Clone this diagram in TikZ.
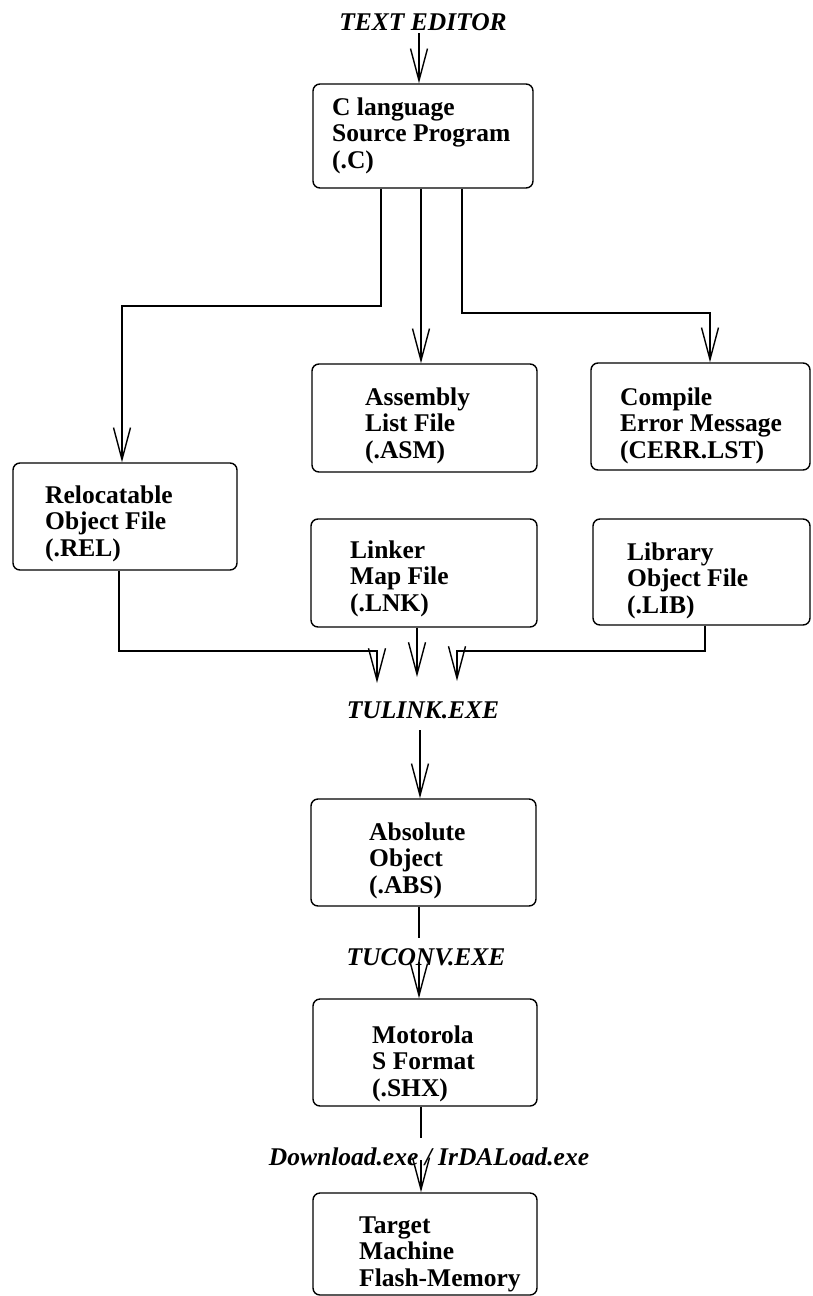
\documentclass[tikz,border=0pt]{standalone}
\usepackage{fontspec}
\setmainfont{Liberation Serif}
\usetikzlibrary{arrows.meta}
\newcommand\threel[3]{\begin{tabular}[t]{@{}l@{}}#1\\#2\\#3\end{tabular}}
\begin{document}
\begin{tikzpicture}[x=1pt,y=-1pt,
  box/.style={draw, line width=1.4pt, rounded corners=7pt, inner sep=0pt},
  txt/.style={inner sep=0pt, anchor=base west, font=\fontsize{25.5}{26.5}\selectfont\bfseries},
  lbl/.style={inner sep=0pt, anchor=base, font=\fontsize{25.5}{26.5}\selectfont\bfseries\itshape},
  arr/.style={line width=1.4pt, -{Straight Barb[length=32pt,width=17pt]}},
  ln/.style={line width=1.4pt}]
\useasboundingbox (0,0) rectangle (812,1296);

% boxes
\node[box, minimum width=220pt, minimum height=104pt] (c)    at (423,136)    {};
\node[box, minimum width=225pt, minimum height=108pt] (asm)  at (424.5,418)  {};
\node[box, minimum width=219pt, minimum height=107pt] (cerr) at (700.5,416.5) {};
\node[box, minimum width=224pt, minimum height=107pt] (rel)  at (125,516.5)  {};
\node[box, minimum width=226pt, minimum height=108pt] (lnk)  at (424,573)    {};
\node[box, minimum width=217pt, minimum height=106pt] (lib)  at (701.5,572)  {};
\node[box, minimum width=225pt, minimum height=107pt] (abs)  at (423.5,852.5) {};
\node[box, minimum width=224pt, minimum height=107pt] (shx)  at (425,1052.5) {};
\node[box, minimum width=224pt, minimum height=102pt] (tgt)  at (425,1244)   {};

% box texts
\node[txt] (ct)    at (332,115)  {\threel{C language}{Source Program}{(.C)}};
\node[txt] (asmt)  at (365,405)  {\threel{Assembly}{List File}{(.ASM)}};
\node[txt] (cerrt) at (620,405)  {\threel{Compile}{Error Message}{(CERR.LST)}};
\node[txt] (relt)  at (45,503)   {\threel{Relocatable}{Object File}{(.REL)}};
\node[txt] (lnkt)  at (350,558)  {\threel{Linker}{Map File}{(.LNK)}};
\node[txt] (libt)  at (627,560)  {\threel{Library}{Object File}{(.LIB)}};
\node[txt] (abst)  at (369,840)  {\threel{Absolute}{Object}{(.ABS)}};
\node[txt] (shxt)  at (372,1043) {\threel{Motorola}{S Format}{(.SHX)}};
\node[txt] (tgtt)  at (359,1233) {\threel{Target}{Machine}{Flash-Memory}};

% labels
\node[lbl] (te)  at (423,30)   {TEXT EDITOR};
\node[lbl] (tl)  at (423,718)  {TULINK.EXE};
\node[lbl] (tc)  at (426,965)  {TUCONV.EXE};
\node[lbl] (dl)  at (429,1165) {Download.exe / IrDALoad.exe};

% helper coordinates
\coordinate (cin)  at ([xshift=-4pt]c.north);
\coordinate (lb)   at (122,306);
\coordinate (rb)   at (710,313);
\coordinate (m1)   at (377,651);
\coordinate (t1)   at (377,683);
\coordinate (t2)   at (417,677);
\coordinate (m3)   at (457,651);
\coordinate (t3)   at (457,681);
\coordinate (abin) at ([xshift=-3.5pt]abs.north);
\coordinate (shin) at ([xshift=-6pt]shx.north);
\coordinate (tgin) at ([xshift=-4pt]tgt.north);

% connectors
\draw[arr] (cin |- 0,33) -- (cin);
\draw[arr] ([xshift=-42pt]c.south) |- (lb) -- (lb |- rel.north);
\draw[arr] ([xshift=-2pt]c.south) -- ([xshift=-2pt]c.south |- asm.north);
\draw[arr] ([xshift=39pt]c.south) |- (rb) -- (rb |- cerr.north);

\draw[arr] ([xshift=-6pt]rel.south) |- (m1) -- (t1);
\draw[arr] ([xshift=-7pt]lnk.south) -- (t2);
\draw[arr] ([xshift=3.5pt]lib.south) |- (m3) -- (t3);

\draw[arr] (abin |- 0,730) -- (abin);
\draw[ln]  ([xshift=-4.5pt]abs.south) -- ++(0,31);
\draw[arr] (shin |- 0,962) -- (shin);
\draw[ln]  ([xshift=-4pt]shx.south) -- ++(0,31);
\draw[arr] (tgin |- 0,1160) -- (tgin);
\end{tikzpicture}
\end{document}
